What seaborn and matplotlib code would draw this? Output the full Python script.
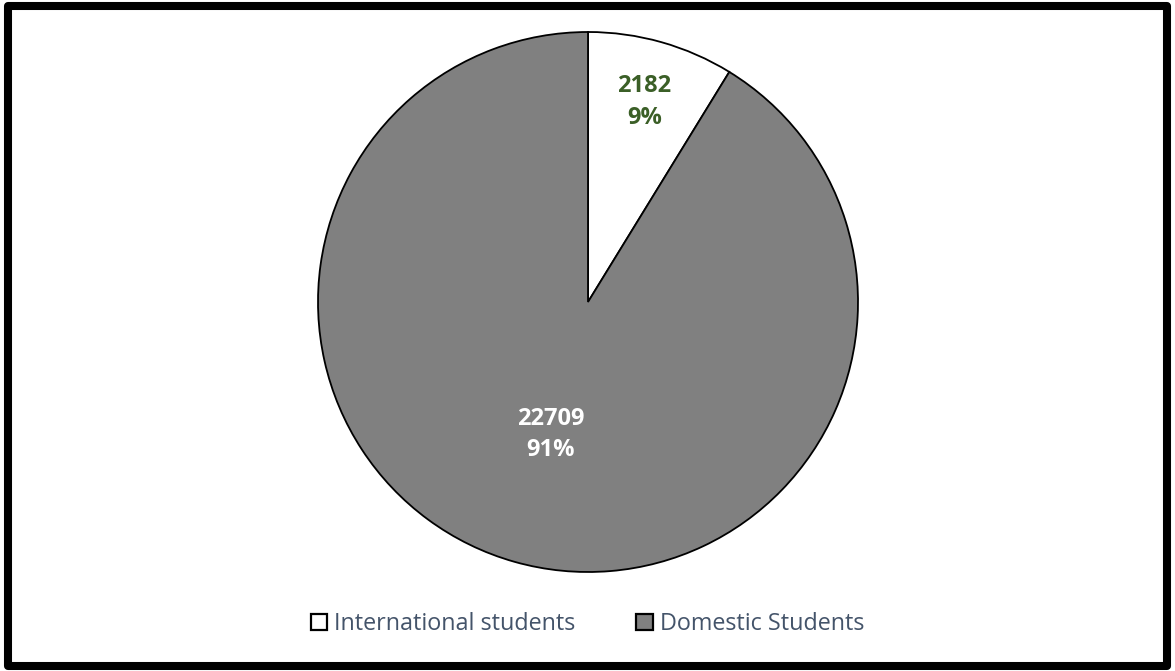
import matplotlib
matplotlib.use("Agg")
import matplotlib.pyplot as plt
import seaborn as sns
import numpy as np
from matplotlib.patches import Rectangle, Patch

sns.set_theme(style="white")
plt.rcParams['font.family'] = ['Open Sans', 'DejaVu Sans']

# data
categories = ["International students", "Domestic Students"]
counts = [2182, 22709]
percents = ["9%", "91%"]
colors = ["#FFFFFF", "#808080"]
label_colors = ["#3B5F27", "#FFFFFF"]
label_dist = [0.77, 0.51]

W, H = 1175, 671
fig = plt.figure(figsize=(W / 100, H / 100), dpi=100)
fig.patch.set_facecolor("white")

# pie centre ~ (588, 302) px, radius ~270 px
r = 270
ax = fig.add_axes([(588 - r) / W, (H - 302 - r) / H, 2 * r / W, 2 * r / H])
wedges, _ = ax.pie(counts, colors=colors, startangle=90, counterclock=False,
                   wedgeprops=dict(edgecolor="black", linewidth=1.3))
ax.set_xlim(-1, 1)
ax.set_ylim(-1, 1)
ax.set_aspect("equal")
ax.axis("off")

for w, n, p, c, d in zip(wedges, counts, percents, label_colors, label_dist):
    ang = np.deg2rad((w.theta1 + w.theta2) / 2)
    ax.text(d * np.cos(ang), d * np.sin(ang), f"{n}\n{p}", ha="center", va="center",
            color=c, fontsize=17, fontweight="bold", linespacing=1.4)

handles = [Patch(facecolor=c, edgecolor="black", linewidth=1.6) for c in colors]
leg = fig.legend(handles, categories, loc="center", bbox_to_anchor=(0.5, 1 - 624 / H),
                 ncol=2, frameon=False, fontsize=16.8, handlelength=0.7, handleheight=0.7,
                 handletextpad=0.3, columnspacing=2.6)
for t in leg.get_texts():
    t.set_color("#44546A")

# thick outer frame
fig.patches.append(Rectangle((8 / W, 5 / H), 1 - 16 / W, 1 - 11 / H, transform=fig.transFigure,
                             fill=False, edgecolor="black", linewidth=5.8, joinstyle="round"))

fig.savefig("out.png", dpi=100)
